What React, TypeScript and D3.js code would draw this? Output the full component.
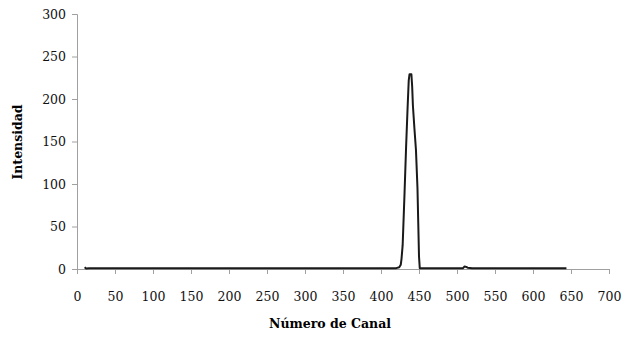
import { useEffect, useRef } from "react"
import * as d3 from "d3"

// channel / intensity pairs
const channels = [10, 12, 16, 50, 100, 150, 200, 250, 300, 350, 400, 420, 424, 426, 427, 428.5, 431, 433, 435, 436.5, 437.5, 440, 441, 442, 444, 446, 448, 449, 450, 451, 460, 500, 508, 510, 512, 514, 520, 560, 600, 640, 644]
const intensity = [2, 0.5, 1, 1, 1, 1, 1, 1, 1, 1, 1, 1, 2, 5, 12, 28, 90, 143, 190, 222, 229, 229, 215, 192, 165, 140, 95, 55, 15, 1, 1, 1, 1, 3, 2.5, 1.5, 1, 1, 1, 1, 1]

const xTicks = d3.range(0, 701, 50)
const yTicks = d3.range(0, 301, 50)

export default function App() {
  const svgRef = useRef<SVGSVGElement>(null)

  useEffect(() => {
    if (!svgRef.current) return
    const root = d3.select(svgRef.current)
    root.selectAll("*").remove()

    const margin = { left: 77, top: 14, right: 21, bottom: 68 }
    const width = 609 - margin.left
    const height = 269 - margin.top
    const font = "DejaVu Serif"

    const svg = root.append("g").attr("transform", `translate(${margin.left},${margin.top})`)

    const x = d3.scaleLinear().domain([0, 700]).range([0, width])
    const y = d3.scaleLinear().domain([0, 300]).range([height, 0])

    // X axis
    const xAxis = svg
      .append("g")
      .attr("transform", `translate(0,${height})`)
      .call(d3.axisBottom(x).tickValues(xTicks).tickSize(5).tickPadding(18).tickFormat(d3.format("d")))
    xAxis.attr("font-family", font).attr("font-size", 12.5)
    xAxis.select(".domain").attr("stroke", "#a0a0a0")
    xAxis.selectAll("line").attr("stroke", "#a0a0a0")
    xAxis.selectAll("text").attr("fill", "#111")

    // Y axis
    const yAxis = svg
      .append("g")
      .call(d3.axisLeft(y).tickValues(yTicks).tickSize(5).tickPadding(6).tickFormat(d3.format("d")))
    yAxis.attr("font-family", font).attr("font-size", 12.5)
    yAxis.select(".domain").attr("stroke", "#a0a0a0")
    yAxis.selectAll("line").attr("stroke", "#a0a0a0")
    yAxis.selectAll("text").attr("fill", "#111")

    // Axis titles
    svg
      .append("text")
      .attr("x", width / 2 - 13)
      .attr("y", height + 59)
      .attr("text-anchor", "middle")
      .attr("font-family", font)
      .attr("font-size", 12.5)
      .attr("font-weight", "bold")
      .text("Número de Canal")

    svg
      .append("text")
      .attr("transform", "rotate(-90)")
      .attr("x", -128)
      .attr("y", -55)
      .attr("text-anchor", "middle")
      .attr("font-family", font)
      .attr("font-size", 12.5)
      .attr("font-weight", "bold")
      .text("Intensidad")

    // Spectrum line
    const line = d3
      .line<number>()
      .x((_, i) => x(channels[i]))
      .y((d) => y(d))

    svg
      .append("path")
      .datum(intensity)
      .attr("d", line)
      .attr("fill", "none")
      .attr("stroke", "#1a1a1a")
      .attr("stroke-width", 2)
      .attr("stroke-linejoin", "round")
  }, [])

  return (
    <svg
      ref={svgRef}
      width={630}
      height={337}
      style={{ position: "absolute", left: 0, top: 0, background: "#fff" }}
    ></svg>
  )
}
